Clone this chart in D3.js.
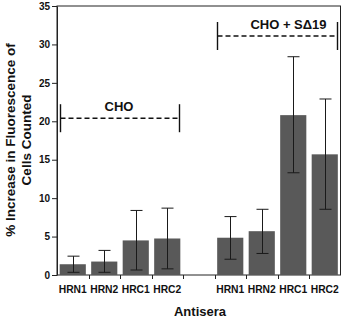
<!DOCTYPE html>
<html>
<head>
<meta charset="utf-8">
<script src="https://cdnjs.cloudflare.com/ajax/libs/d3/7.8.5/d3.min.js"></script>
<style>
  html, body { margin: 0; padding: 0; background: #fff; }
  svg { display: block; font-family: "Liberation Sans", Arial, Helvetica, sans-serif; }
</style>
</head>
<body>
<svg id="chart" width="342" height="319"></svg>
<script>
// ---- data ----
const categoryKeys = ["a1", "a2", "a3", "a4", "gap", "b1", "b2", "b3", "b4"];
const categoryLabels = ["HRN1", "HRN2", "HRC1", "HRC2", "", "HRN1", "HRN2", "HRC1", "HRC2"];
const barKeys = ["a1", "a2", "a3", "a4", "b1", "b2", "b3", "b4"];
const meanValues = [1.4, 1.75, 4.5, 4.75, 4.85, 5.7, 20.8, 15.7];
const errorLow = [0.35, 0.35, 0.65, 0.8, 2.05, 2.8, 13.3, 8.55];
const errorHigh = [2.45, 3.2, 8.4, 8.7, 7.6, 8.55, 28.4, 22.9];
const yTicks = [0, 5, 10, 15, 20, 25, 30, 35];
const groupLabels = ["CHO", "CHO + S\u039419"];
const groupStart = ["a1", "b1"];
const groupEnd = ["a4", "b4"];
const groupLevel = [20.4, 31.1];
const yTitle = ["% Increase in Fluorescence of", "Cells Counted"];
const xTitle = "Antisera";

// ---- layout ----
const mLeft = 57, mRight = 340.5, mTop = 6, mBottom = 275;
const svg = d3.select("#chart");

const x = d3.scaleBand().domain(categoryKeys).range([mLeft, mRight]).paddingInner(0.17).paddingOuter(0.085);
const xSlot = d3.scaleBand().domain(categoryKeys).range([mLeft, mRight]).padding(0);
const y = d3.scaleLinear().domain([0, 35]).range([mBottom, mTop]);

// frame
svg.append("rect").attr("x", mLeft).attr("y", mTop).attr("width", mRight - mLeft).attr("height", mBottom - mTop)
  .attr("fill", "none").attr("stroke", "#222").attr("stroke-width", 1);

// bars
const bars = barKeys.map((k, i) => ({ k, v: meanValues[i], lo: errorLow[i], hi: errorHigh[i] }));
svg.append("g").selectAll("rect").data(bars).join("rect")
  .attr("x", d => x(d.k)).attr("width", x.bandwidth())
  .attr("y", d => y(d.v)).attr("height", d => y(0) - y(d.v))
  .attr("fill", "#595959");

// error bars
const eb = svg.append("g").attr("stroke", "#1a1a1a").attr("stroke-width", 1);
bars.forEach(d => {
  const cx = Math.round(x(d.k) + x.bandwidth() / 2) + 0.5;
  eb.append("line").attr("x1", cx).attr("x2", cx).attr("y1", y(d.lo)).attr("y2", y(d.hi));
  eb.append("line").attr("x1", cx - 6).attr("x2", cx + 6).attr("y1", y(d.hi)).attr("y2", y(d.hi));
  eb.append("line").attr("x1", cx - 6).attr("x2", cx + 6).attr("y1", y(d.lo)).attr("y2", y(d.lo));
});

// y axis
const yAxis = d3.axisLeft(y).tickValues(yTicks).tickSize(5).tickPadding(2).tickSizeOuter(0);
const ga = svg.append("g").attr("transform", `translate(${mLeft},0)`).call(yAxis);
ga.select(".domain").attr("stroke", "#222");
ga.selectAll(".tick line").attr("stroke", "#222");
ga.selectAll(".tick text").attr("font-size", 10).attr("font-weight", "bold").attr("fill", "#111")
  .attr("font-family", "Liberation Sans, Arial, sans-serif");

// x axis
const xAxis = d3.axisBottom(x).tickFormat((k) => categoryLabels[categoryKeys.indexOf(k)]).tickSize(0).tickPadding(11).tickSizeOuter(0);
const gx = svg.append("g").attr("transform", `translate(0,${mBottom})`).call(xAxis);
gx.select(".domain").remove();
gx.selectAll(".tick text").attr("font-size", 10.3).attr("font-weight", "bold").attr("fill", "#111")
  .attr("font-family", "Liberation Sans, Arial, sans-serif");
// x tick marks at slot boundaries
const boundaries = categoryKeys.slice(1);
svg.append("g").selectAll("line").data(boundaries).join("line")
  .attr("x1", k => Math.round(xSlot(k)) + 0.5).attr("x2", k => Math.round(xSlot(k)) + 0.5)
  .attr("y1", mBottom).attr("y2", mBottom + 4).attr("stroke", "#222");

// group brackets
groupLabels.forEach((lab, i) => {
  const x1 = Math.round(x(groupStart[i])) + 0.5;
  const x2 = Math.round(x(groupEnd[i]) + x.bandwidth()) - 0.5;
  const yy = y(groupLevel[i]);
  const g = svg.append("g").attr("stroke", "#111");
  g.append("line").attr("x1", x1).attr("x2", x2).attr("y1", yy).attr("y2", yy)
    .attr("stroke-dasharray", "5,3").attr("stroke-width", 1.5);
  g.append("line").attr("x1", x1).attr("x2", x1).attr("y1", yy - 14).attr("y2", yy + 14).attr("stroke-width", 1.4);
  g.append("line").attr("x1", x2).attr("x2", x2).attr("y1", yy - 14).attr("y2", yy + 14).attr("stroke-width", 1.4);
  svg.append("text").attr("x", (x1 + x2) / 2 + (i === 0 ? -1 : 11)).attr("y", yy - 7)
    .attr("text-anchor", "middle").attr("font-size", 13).attr("font-weight", "bold").attr("fill", "#111")
    .text(lab);
});

// axis titles
const yt = svg.append("text").attr("transform", "translate(15,140) rotate(-90)")
  .attr("text-anchor", "middle").attr("font-size", 13.5).attr("font-weight", "bold").attr("fill", "#111");
yt.append("tspan").attr("x", 0).attr("y", 0).text(yTitle[0]);
yt.append("tspan").attr("x", 0).attr("y", 16).text(yTitle[1]);

svg.append("text").attr("x", 200).attr("y", 316).attr("text-anchor", "middle")
  .attr("font-size", 13).attr("font-weight", "bold").attr("fill", "#111").text(xTitle);
</script>
</body>
</html>
